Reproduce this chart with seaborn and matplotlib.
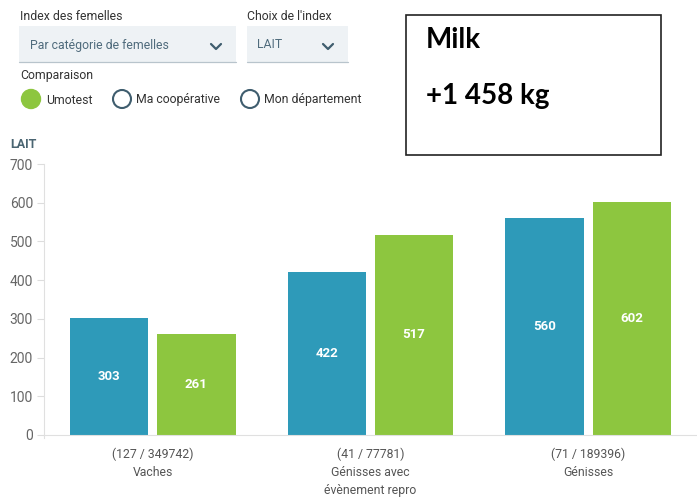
import numpy as np
import pandas as pd
import seaborn as sns
import matplotlib.pyplot as plt
from matplotlib.patches import Rectangle, Circle

categories = ["Vaches", "Génisses avec\névènement repro", "Génisses"]
counts = ["(127 / 349742)", "(41 / 77781)", "(71 / 189396)"]
series = ["Ma sélection", "Umotest"]
values_blue = [303, 422, 560]
values_green = [261, 517, 602]
yticks = [0, 100, 200, 300, 400, 500, 600, 700]

BLUE = "#2E9AB9"
GREEN = "#8DC63F"
SLATE = "#3F5D6E"

sns.set_theme(style="white")
plt.rcParams["font.family"] = ["Roboto", "DejaVu Sans"]

df = pd.DataFrame({
    "cat": categories * 2,
    "serie": [series[0]] * 3 + [series[1]] * 3,
    "val": values_blue + values_green,
})

fig = plt.figure(figsize=(6.97, 5.0), dpi=100)
ax = fig.add_axes([44 / 697, 65 / 500, 653 / 697, 271 / 500])

sns.barplot(data=df, x="cat", y="val", hue="serie", palette=[BLUE, GREEN],
            width=0.8, gap=0.1, linewidth=0, saturation=1, ax=ax, legend=False)

for cont in ax.containers:
    ax.bar_label(cont, label_type="center", color="white", fontweight="bold",
                 fontsize=9.5)

ax.set_xlim(-0.5, 2.5)
ax.set_yticks(yticks)
ax.set_yticklabels([str(t) for t in yticks], fontsize=10, color="#666666")
ax.set_xticks(range(len(categories)))
ax.set_xticklabels([n + "\n" + c for n, c in zip(counts, categories)],
                   fontsize=8.8, color="#555555", linespacing=1.5)
ax.tick_params(axis="x", length=0, pad=9)
ax.set_xticks([-0.5, 0.5, 1.5, 2.5], minor=True)
ax.tick_params(axis="x", which="minor", length=8, color="#dddddd", width=0.8)
ax.tick_params(axis="y", length=5, color="#dddddd", width=0.8, pad=3, left=True)
ax.set_xlabel("")
ax.set_ylabel("")
for side in ["top", "right"]:
    ax.spines[side].set_visible(False)
for side in ["left", "bottom"]:
    ax.spines[side].set_color("#e0e0e0")
    ax.spines[side].set_linewidth(0.8)
ax.spines["left"].set_bounds(-8, 700)
ax.set_ylim(0, 700)

# overlay for the controls above the chart
ov = fig.add_axes([0, 0, 1, 1], zorder=-1)
ov.set_xlim(0, 697)
ov.set_ylim(500, 0)
ov.axis("off")

fs = 8.8
ov.text(20, 17, "Index des femelles", fontsize=fs, color="#333333", va="center")
ov.text(247, 17, "Choix de l'index", fontsize=fs, color="#333333", va="center")
ov.add_patch(Rectangle((19, 26), 217, 36, facecolor="#eef2f5", edgecolor="none"))
ov.add_patch(Rectangle((247, 26), 101, 36, facecolor="#eef2f5", edgecolor="none"))
ov.plot([19, 236], [62, 62], color="#b8c4cc", lw=0.9)
ov.plot([247, 348], [62, 62], color="#b8c4cc", lw=0.9)
ov.text(30, 45, "Par catégorie de femelles", fontsize=fs, color="#4f6b7c", va="center")
ov.text(257, 45, "LAIT", fontsize=fs, color="#4f6b7c", va="center")
for cx in [216, 328]:
    ov.plot([cx - 5, cx, cx + 5], [44, 49, 44], color=SLATE, lw=1.6,
            solid_capstyle="round", solid_joinstyle="round")

ov.text(20, 75, "Comparaison", fontsize=fs, color="#333333", va="center")
ov.add_patch(Circle((31, 99), 9.5, facecolor=GREEN, edgecolor=GREEN))
ov.text(46, 100, "Umotest", fontsize=fs, color="#333333", va="center")
ov.add_patch(Circle((122, 99), 9, facecolor="white", edgecolor=SLATE, lw=1.5))
ov.text(136, 100, "Ma coopérative", fontsize=fs, color="#333333", va="center")
ov.add_patch(Circle((250, 99), 9, facecolor="white", edgecolor=SLATE, lw=1.5))
ov.text(264, 100, "Mon département", fontsize=fs, color="#333333", va="center")

ov.text(10, 145, "LAIT", fontsize=9, color="#4a6572", fontweight="bold", va="center")

ov.add_patch(Rectangle((406, 15), 255, 140, facecolor="white", edgecolor="#222222", lw=1.2))
ov.text(426, 40, "Milk", fontsize=20, fontweight="bold", color="black",
        va="center", family=["Lato", "DejaVu Sans"])
ov.text(426, 96, "+1 458 kg", fontsize=20, fontweight="bold", color="black",
        va="center", family=["Lato", "DejaVu Sans"])

fig.savefig("out.png", dpi=100)
